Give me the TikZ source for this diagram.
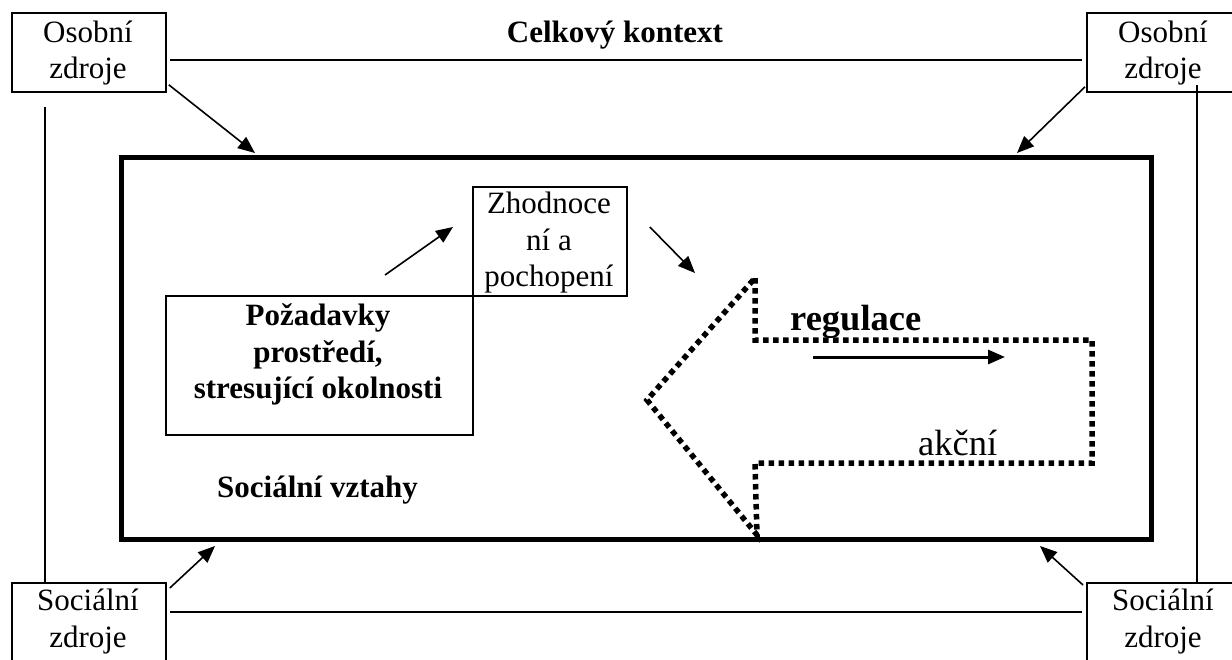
\documentclass[tikz,border=0pt]{standalone}
\usepackage{fontspec}
\setmainfont{Liberation Serif}
\usetikzlibrary{arrows.meta,calc}
\begin{document}
\begin{tikzpicture}[x=1pt,y=-1pt,
  box/.style={draw, line width=1.8pt, inner sep=0, anchor=north west},
  lbl/.style={anchor=base, inner sep=0, font=\fontsize{31}{36}\selectfont},
  blbl/.style={anchor=base, inner sep=0, font=\fontsize{31}{36}\selectfont\bfseries},
  biglbl/.style={anchor=base west, inner sep=0, font=\fontsize{36.5}{42}\selectfont},
  conn/.style={line width=1.5pt},
  arr/.style={line width=1.6pt, -{Triangle[length=17pt,width=14pt]}},
  bigarr/.style={line width=3pt, -{Triangle[length=17pt,width=14pt]}},
  dotline/.style={line width=5.5pt, dash pattern=on 5.5pt off 4.5pt, line cap=butt}]
\useasboundingbox (0,0) rectangle (1232,659);

% boxes
\node[box, minimum width=154, minimum height=79] (osL) at (11,12) {};
\node[box, minimum width=154, minimum height=79] (osR) at (1086,12) {};
\node[box, minimum width=154, minimum height=79] (soL) at (11,582) {};
\node[box, minimum width=154, minimum height=79] (soR) at (1086,582) {};
\node[draw, line width=5pt, inner sep=0, anchor=north west, minimum width=1030.5, minimum height=382] (main) at (118.5,155) {};
\node[box, minimum width=307, minimum height=139] (poz) at (165,295) {};
\node[box, minimum width=154, minimum height=109] (zh) at (472,186) {};

% box texts
\node[lbl] (osLa) at (88,42) {Osobní};
\node[lbl] (osLb) at (88,78) {zdroje};
\node[lbl] (osRa) at (1163,42) {Osobní};
\node[lbl] (osRb) at (1163,78) {zdroje};
\node[lbl] (soLa) at (88,610) {Sociální};
\node[lbl] (soLb) at (88,647) {zdroje};
\node[lbl] (soRa) at (1163,610) {Sociální};
\node[lbl] (soRb) at (1163,647) {zdroje};
\node[blbl] (pozA) at (318,325) {Požadavky};
\node[blbl] (pozB) at (318,362) {prostředí,};
\node[blbl] (pozC) at (318,398) {stresující okolnosti};
\node[lbl] (zhA) at (549,213) {Zhodnoce};
\node[lbl] (zhB) at (549,250) {ní a};
\node[lbl] (zhC) at (549,286) {pochopení};
\node[blbl] (ctx) at (615,42) {Celkový kontext};
\node[blbl] (soc) at (317.5,497) {Sociální vztahy};

% frame connectors
\draw[conn] ($(osL.south east)+(3,-33)$) -- ($(osR.south west)+(-4,-33)$);
\draw[conn] ($(soL.north east)+(3,30)$) -- ($(soR.north west)+(-4,30)$);
\draw[conn] ($(osL.south west)+(34,14)$) -- ($(soL.north west)+(34,0)$);
\draw[conn] ($(osR.south west)+(111,-8)$) -- ($(soR.north west)+(111,0)$);

\draw[arr] ($(osL.south east)+(2,-8)$) -- ($(main.north west)+(136.5,-2)$);
\draw[arr] ($(osR.south west)+(-1,-6)$) -- ($(main.north east)+(-137,-2)$);
\draw[arr] ($(soL.north east)+(3,6)$) -- ($(main.south west)+(96.5,4)$);
\draw[arr] ($(soR.north west)+(-3,3)$) -- ($(main.south east)+(-114,4)$);

% dotted block arrow
\coordinate (dTop) at (755,278);
\coordinate (dIn1) at (755,340);
\coordinate (dR1) at (1092,340);
\coordinate (dR2) at (1092,463);
\coordinate (dIn2) at (755,463);
\coordinate (dBot) at (757,535);
\coordinate (dTip) at (647,400);
\draw[dotline] (dTop) -- (dIn1) -- (dR1) -- (dR2) -- (dIn2) -- (dBot) -- (dTip) -- cycle;

% inner arrows
\draw[arr] ($(poz.north west)+(220,-20)$) -- ($(zh.north west)+(-19,41)$);
\draw[arr] ($(zh.north east)+(22,41)$) -- ($(dTop)+(-60,-5)$);
\draw[bigarr] ($(dIn1)+(58,17)$) -- ($(dR1)+(-87,17)$);

\node[biglbl, font=\fontsize{36.5}{42}\selectfont\bfseries] (reg) at (790,330) {regulace};
\node[biglbl] (akc) at (918,455) {akční};
\end{tikzpicture}
\end{document}
